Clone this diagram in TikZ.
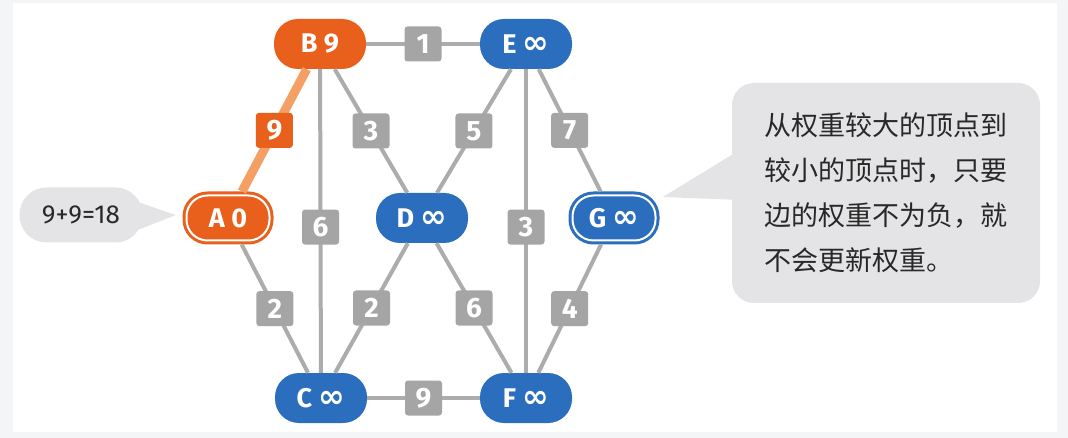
\documentclass[tikz,border=0pt]{standalone}
\usepackage{fontspec}
\setmainfont{Fira Sans}
\newfontfamily\cjk{Noto Sans CJK SC}
\newfontfamily\symfont{DejaVu Sans}
\usetikzlibrary{calc}
\definecolor{nodeorange}{RGB}{232, 96, 28}
\definecolor{pathorange}{RGB}{244, 160, 100}
\definecolor{nodeblue}{RGB}{44, 110, 190}
\definecolor{edgegray}{RGB}{172, 172, 172}
\definecolor{labelgray}{RGB}{165, 165, 165}
\definecolor{bubblegray}{RGB}{228, 228, 230}
\definecolor{framegray}{RGB}{244, 245, 247}
\definecolor{textdark}{RGB}{40, 40, 40}
\newcommand{\inff}{{\symfont\bfseries\fontsize{32}{32}\selectfont ∞}}

\begin{document}
\begin{tikzpicture}[x=1pt, y=-1pt,
    vertex/.style={rectangle, rounded corners=24pt, fill=#1, text=white, minimum width=92pt, minimum height=50pt, inner sep=0pt, font=\fontsize{27}{27}\selectfont\bfseries},
    startvertex/.style={vertex=#1, draw=#1, double=white, double distance=2pt, line width=3pt, minimum width=83pt, minimum height=45pt, outer sep=4pt, rounded corners=21pt},
    link/.style={draw=edgegray, line width=4pt},
    wlabel/.style={rectangle, rounded corners=3pt, fill=labelgray, text=white, minimum width=37pt, minimum height=35pt, inner sep=0pt, font=\fontsize{28}{28}\selectfont\bfseries},
    note/.style={rectangle, rounded corners=22pt, fill=bubblegray, text=textdark, inner sep=0pt}
]

% Frame
\fill[framegray] (0,0) rectangle (1068,438);
\fill[white] (13,3) rectangle (1057,432);

% Vertices
\node[vertex=nodeorange] (B) at (320,44) {B 9};
\node[vertex=nodeblue] (E) at (526,44) {E \inff};
\node[startvertex=nodeorange] (A) at (228,218) {A 0};
\node[vertex=nodeblue] (D) at (422,218) {D \inff};
\node[startvertex=nodeblue] (G) at (614,218) {G \inff};
\node[vertex=nodeblue] (C) at (321,398) {C \inff};
\node[vertex=nodeblue] (F) at (526,398) {F \inff};

% Edges
\draw[link] (B) -- node[wlabel]{1} (E);
\draw[link] (B) -- node[wlabel, pos=0.52]{6} (C);
\draw[link] (B) -- node[wlabel]{3} (D);
\draw[link] (E) -- node[wlabel]{5} (D);
\draw[link] (E) -- node[wlabel, pos=0.52]{3} (F);
\draw[link] (E) -- node[wlabel]{7} (G);
\draw[link] (A) -- node[wlabel]{2} (C);
\draw[link] (D) -- node[wlabel]{2} (C);
\draw[link] (D) -- node[wlabel]{6} (F);
\draw[link] (G) -- node[wlabel]{4} (F);
\draw[link] (C) -- node[wlabel]{9} (F);
\draw[line width=9pt, draw=pathorange] (A) -- node[wlabel, fill=nodeorange]{9} (B);

% Callouts
\node[note, minimum width=123pt, minimum height=55pt, rounded corners=27pt, font=\fontsize{26}{26}\selectfont] (sum) at (81,215) {9+9=18};
\fill[bubblegray] (sum.east) ++(-5,-13) -- ++(38,13) -- ++(-38,15) -- cycle;

\node[note, minimum width=308pt, minimum height=220pt, align=left, font=\cjk\fontsize{27}{45}\selectfont] (remark) at (886,193) {从权重较大的顶点到\\较小的顶点时，只要\\边的权重不为负，就\\不会更新权重。};
\fill[bubblegray] (remark.west) ++(8,-43) -- ++(-77,47) -- ++(77,3) -- cycle;

\end{tikzpicture}
\end{document}
